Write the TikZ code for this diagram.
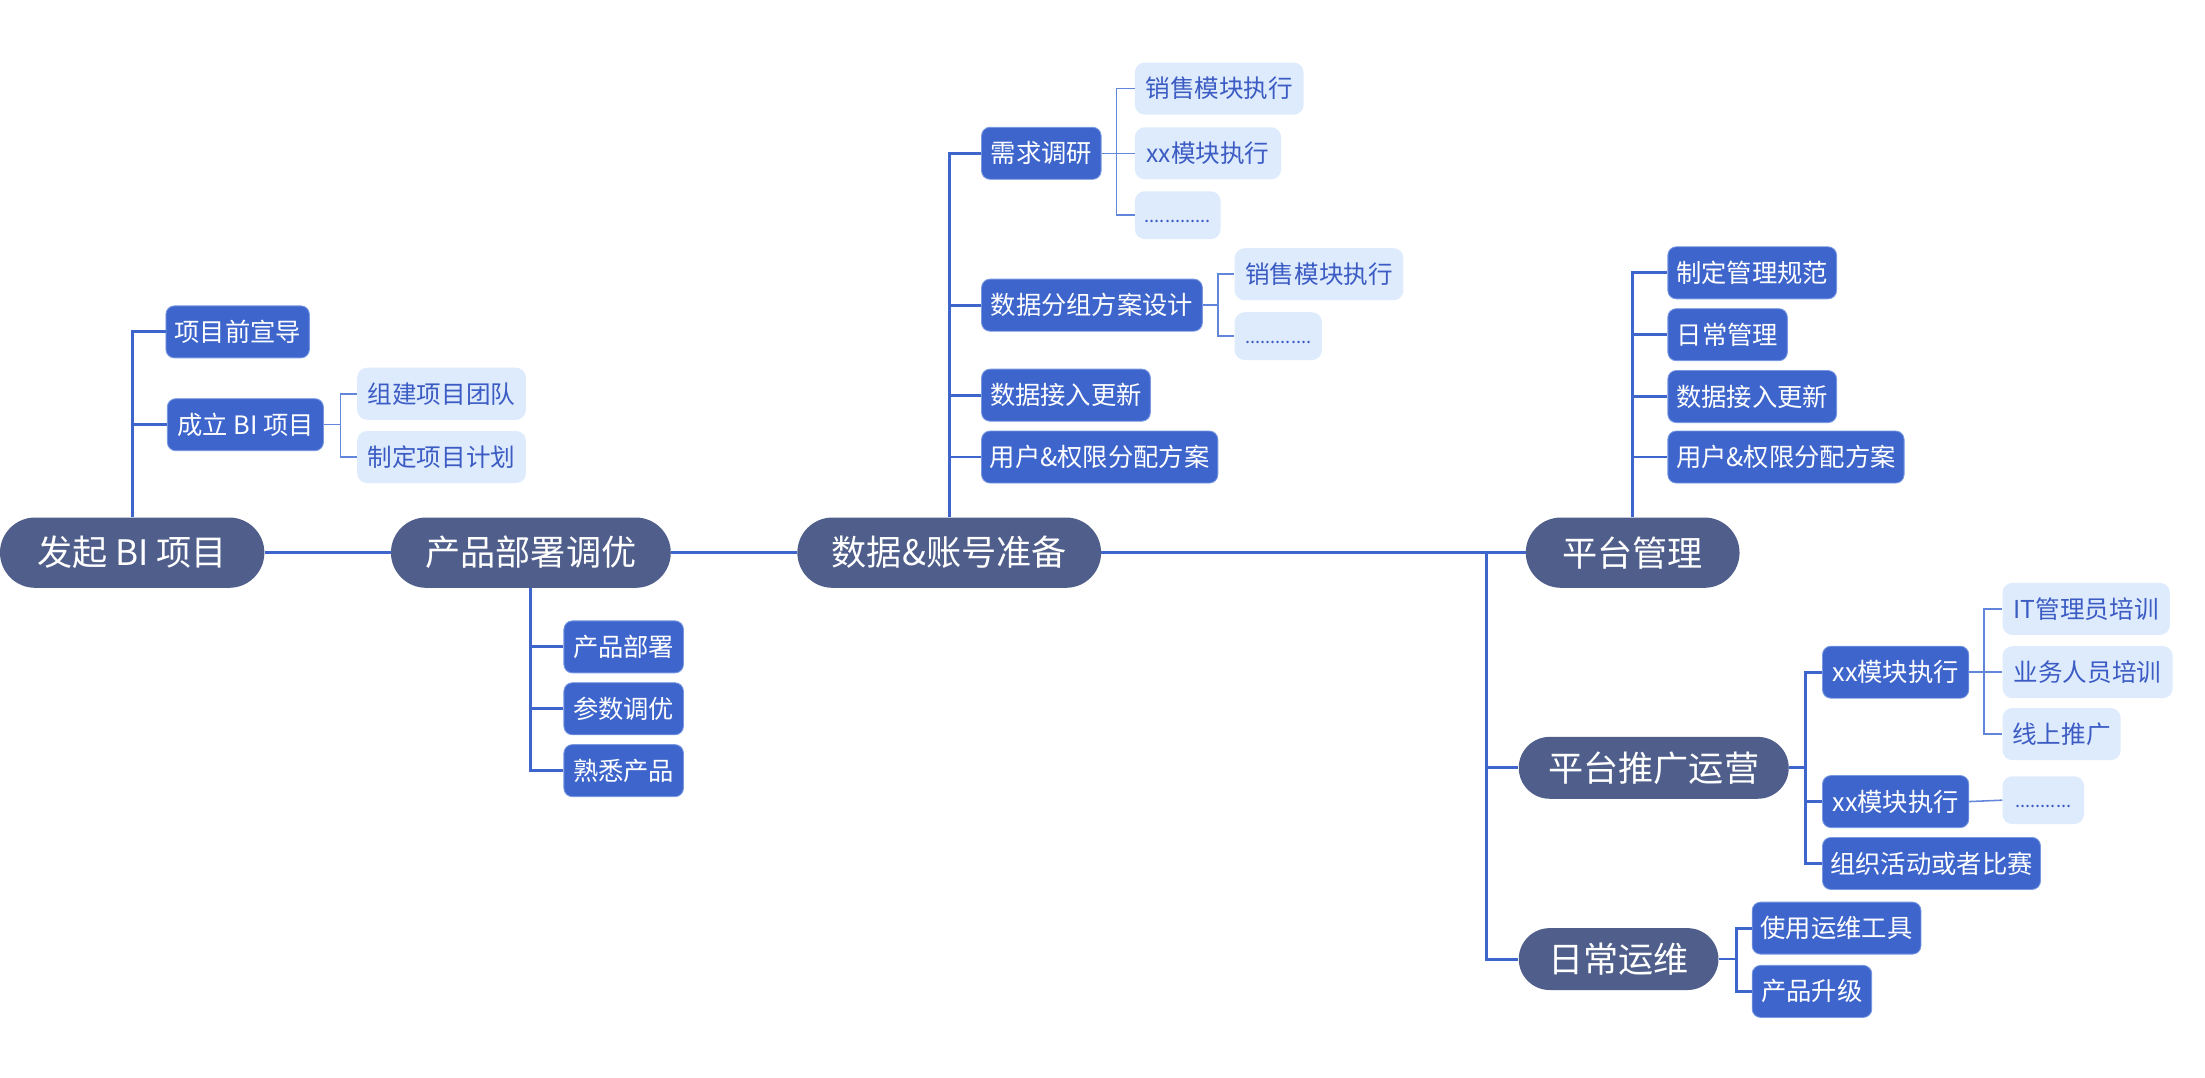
\documentclass[tikz,border=0pt]{standalone}
\usepackage{fontspec}
\setmainfont{Noto Sans CJK SC}
\definecolor{pillc}{RGB}{79,94,138}
\definecolor{boxc}{RGB}{62,101,204}
\definecolor{boxline}{RGB}{120,152,226}
\definecolor{lightc}{RGB}{221,235,253}
\definecolor{lighttext}{RGB}{60,92,196}
\definecolor{linec}{RGB}{62,101,204}
\definecolor{thinc}{RGB}{98,134,219}
\begin{document}
\begin{tikzpicture}[x=1pt,y=-1pt,
  pillbig/.style={fill=pillc,text=white,rounded corners=25pt,inner sep=0pt,minimum height=50pt,font=\fontsize{25}{30}\selectfont},
  pillsmall/.style={fill=pillc,text=white,rounded corners=22pt,inner sep=0pt,minimum height=44pt,font=\fontsize{25}{30}\selectfont},
  lvtwo/.style={fill=boxc,draw=boxline,line width=0.6pt,text=white,rounded corners=6pt,inner sep=0pt,minimum height=37pt,font=\fontsize{18}{22}\selectfont},
  lvthree/.style={fill=lightc,text=lighttext,rounded corners=7pt,inner sep=0pt,minimum height=37pt,font=\fontsize{17.5}{21}\selectfont},
  dotbox/.style={fill=lightc,text=lighttext,rounded corners=7pt,inner sep=0pt,minimum height=34pt,font=\fontsize{13}{16}\selectfont},
  mainline/.style={draw=linec,line width=2.2pt},
  twoline/.style={draw=linec,line width=2pt},
  threeline/.style={draw=thinc,line width=1.1pt}]
\useasboundingbox (0,0) rectangle (1568,766);

% level 1
\node[pillbig, minimum width=188pt] (n1) at (94,393) {发起 BI 项目};
\node[pillbig, minimum width=199pt] (n2) at (377.5,393) {产品部署调优};
\node[pillbig, minimum width=216pt] (n3) at (675,393) {数据\&账号准备};
\node[pillbig, minimum width=152pt] (n4) at (1161,393) {平台管理};
\node[pillsmall, minimum width=192pt] (n5) at (1176,546) {平台推广运营};
\node[pillsmall, minimum width=142pt] (n6) at (1151,682) {日常运维};

% level 2
\node[lvtwo, minimum width=102pt] (a1) at (169,236) {项目前宣导};
\node[lvtwo, minimum width=111pt] (a2) at (174.5,302) {成立 BI 项目};
\node[lvtwo, minimum width=85pt] (b1) at (443.5,460) {产品部署};
\node[lvtwo, minimum width=85pt] (b2) at (443.5,504) {参数调优};
\node[lvtwo, minimum width=85pt] (b3) at (443.5,548) {熟悉产品};
\node[lvtwo, minimum width=85pt] (d1) at (740.5,109) {需求调研};
\node[lvtwo, minimum width=157pt] (d2) at (776.5,217) {数据分组方案设计};
\node[lvtwo, minimum width=120pt] (d3) at (758,281) {数据接入更新};
\node[lvtwo, minimum width=168pt] (d4) at (782,325) {用户\&权限分配方案};
\node[lvtwo, minimum width=120pt] (e1) at (1246,194) {制定管理规范};
\node[lvtwo, minimum width=85pt] (e2) at (1228.5,238) {日常管理};
\node[lvtwo, minimum width=120pt] (e3) at (1246,282) {数据接入更新};
\node[lvtwo, minimum width=168pt] (e4) at (1270,325) {用户\&权限分配方案};
\node[lvtwo, minimum width=104pt] (c1) at (1348,478) {xx模块执行};
\node[lvtwo, minimum width=104pt] (c2) at (1348,570) {xx模块执行};
\node[lvtwo, minimum width=155pt] (c3) at (1373.5,614) {组织活动或者比赛};
\node[lvtwo, minimum width=120pt] (f1) at (1306,660) {使用运维工具};
\node[lvtwo, minimum width=85pt] (f2) at (1288.5,705) {产品升级};

% level 3
\node[lvthree, minimum width=120pt] (g1) at (314,280) {组建项目团队};
\node[lvthree, minimum width=120pt] (g2) at (314,325) {制定项目计划};
\node[lvthree, minimum width=120pt] (h1) at (867,63) {销售模块执行};
\node[lvthree, minimum width=104pt] (h2) at (859,109) {xx模块执行};
\node[dotbox, minimum width=61pt] (h3) at (837.5,153) {\vphantom{销}.............};
\node[lvthree, minimum width=120pt] (i1) at (938,195) {销售模块执行};
\node[dotbox, minimum width=62pt] (i2) at (909,239) {\vphantom{销}.............};
\node[lvthree, minimum width=119pt] (j1) at (1483.5,433) {IT管理员培训};
\node[lvthree, minimum width=121pt] (j2) at (1484.5,478) {业务人员培训};
\node[lvthree, minimum width=84pt] (j3) at (1466,522) {线上推广};
\node[dotbox, minimum width=58pt] (k1) at (1453,569) {\vphantom{销}...........};

% junction coordinates
\coordinate (sj) at (1057,393);
\coordinate (ka2) at (242,302);
\coordinate (kd1) at (794,109);
\coordinate (kd2) at (866,217);
\coordinate (kc1) at (1411,478);
\coordinate (kn5) at (1284,546);
\coordinate (kn6) at (1235,682);

% spine
\draw[mainline] (n1.east) -- (n2.west);
\draw[mainline] (n2.east) -- (n3.west);
\draw[mainline] (n3.east) -- (n4.west);
\draw[mainline] (sj) |- (n5.west);
\draw[mainline] (sj) |- (n6.west);

% level 2 connectors
\draw[twoline] (n1.north) |- (a1.west);
\draw[twoline] (n1.north) |- (a2.west);
\draw[twoline] (n2.south) |- (b1.west);
\draw[twoline] (n2.south) |- (b2.west);
\draw[twoline] (n2.south) |- (b3.west);
\draw[twoline] (n3.north) |- (d1.west);
\draw[twoline] (n3.north) |- (d2.west);
\draw[twoline] (n3.north) |- (d3.west);
\draw[twoline] (n3.north) |- (d4.west);
\draw[twoline] (n4.north) |- (e1.west);
\draw[twoline] (n4.north) |- (e2.west);
\draw[twoline] (n4.north) |- (e3.west);
\draw[twoline] (n4.north) |- (e4.west);
\draw[twoline] (n5.east) -- (kn5);
\draw[twoline] (kn5) |- (c1.west);
\draw[twoline] (kn5) |- (c2.west);
\draw[twoline] (kn5) |- (c3.west);
\draw[twoline] (n6.east) -- (kn6);
\draw[twoline] (kn6) |- (f1.west);
\draw[twoline] (kn6) |- (f2.west);

% level 3 connectors
\draw[threeline] (a2.east) -- (ka2);
\draw[threeline] (ka2) |- (g1.west);
\draw[threeline] (ka2) |- (g2.west);
\draw[threeline] (d1.east) -- (kd1);
\draw[threeline] (kd1) |- (h1.west);
\draw[threeline] (kd1) |- (h2.west);
\draw[threeline] (kd1) |- (h3.west);
\draw[threeline] (d2.east) -- (kd2);
\draw[threeline] (kd2) |- (i1.west);
\draw[threeline] (kd2) |- (i2.west);
\draw[threeline] (c1.east) -- (kc1);
\draw[threeline] (kc1) |- (j1.west);
\draw[threeline] (kc1) |- (j2.west);
\draw[threeline] (kc1) |- (j3.west);
\draw[threeline] (c2.east) -- (k1.west);
\end{tikzpicture}
\end{document}
